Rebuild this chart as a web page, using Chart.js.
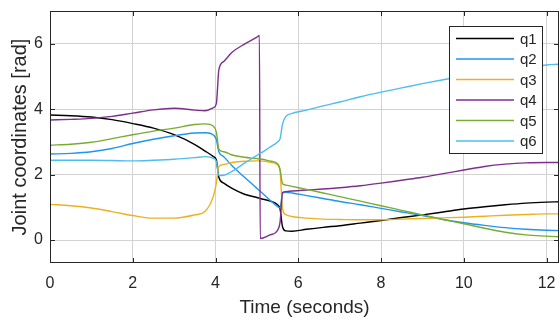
<!DOCTYPE html>
<html><head><meta charset="utf-8">
<script src="https://cdn.jsdelivr.net/npm/chart.js@4"></script>
<style>html,body{margin:0;background:#fff}</style>
</head><body>
<canvas id="c" width="560" height="320"></canvas>
<script>
// time axis (seconds) shared by all joints
const time = [0,0.5,1,1.5,2,2.5,3,3.5, 3.75,3.95,4.02,4.08, 4.2,4.4,4.7,5.0, 5.06,5.08,5.3,5.5, 5.56,5.62,5.7,5.85, 6.2,6.6,7,7.5, 8,8.5,9,9.5, 10,10.5,11,11.5, 12,12.3];
const q1 = [3.82,3.80,3.76,3.68,3.56,3.42,3.22,2.92, 2.72,2.55,2.45,1.92, 1.74,1.58,1.40,1.30, 1.28,1.27,1.20,1.08, 0.95,0.40,0.28,0.27, 0.33,0.39,0.44,0.52, 0.60,0.69,0.77,0.86, 0.95,1.02,1.08,1.13, 1.16,1.17];
const q2 = [2.63,2.65,2.70,2.80,2.95,3.08,3.19,3.27, 3.28,3.21,3.07,2.70, 2.55,2.27,1.92,1.58, 1.51,1.49,1.24,1.02, 0.98,1.44,1.46,1.44, 1.36,1.27,1.18,1.08, 0.97,0.86,0.75,0.63, 0.53,0.45,0.38,0.33, 0.30,0.29];
const q3 = [1.09,1.05,0.98,0.87,0.75,0.67,0.67,0.77, 0.88,1.35,1.75,2.25, 2.31,2.37,2.41,2.42, 2.42,2.42,2.38,2.30, 2.10,0.95,0.78,0.72, 0.67,0.64,0.63,0.62, 0.62,0.64,0.66,0.68, 0.70,0.73,0.76,0.78, 0.80,0.80];
const q4 = [3.67,3.69,3.72,3.78,3.88,3.98,4.03,3.97, 3.95,4.05,4.17,5.20, 5.46,5.74,5.99,6.20, 6.25,0.05,0.15,0.30, 0.55,1.45,1.48,1.50, 1.53,1.56,1.60,1.66, 1.74,1.83,1.92,2.03, 2.14,2.25,2.32,2.36, 2.37,2.37];
const q5 = [2.90,2.93,2.99,3.10,3.22,3.33,3.42,3.53, 3.55,3.48,3.30,2.78, 2.70,2.60,2.53,2.49, 2.48,2.48,2.42,2.33, 2.15,1.72,1.68,1.64, 1.55,1.44,1.33,1.19, 1.05,0.91,0.77,0.63, 0.50,0.36,0.24,0.16, 0.12,0.10];
const q6 = [2.44,2.44,2.44,2.43,2.42,2.44,2.47,2.52, 2.55,2.50,2.40,1.97, 1.98,2.10,2.35,2.59, 2.64,2.65,2.83,3.00, 3.10,3.55,3.78,3.87, 3.97,4.10,4.22,4.38, 4.52,4.65,4.78,4.90, 5.01,5.11,5.20,5.28, 5.35,5.38];
const names = ["q1","q2","q3","q4","q5","q6"];
const colors = ["#000000","#1E96F0","#EDB120","#7E2F8E","#77AC30","#4DBEEE"];
const xTicks = [0,2,4,6,8,10,12], yTicks = [0,2,4,6];

Chart.defaults.font.family = "'Liberation Sans', Arial, sans-serif";
Chart.defaults.color = "#262626";
const ink = "#262626";

// MATLAB-like box with inward ticks, plus legend inside the axes
const frame = {id:"frame", afterDatasetsDraw(ch){
  const {ctx, chartArea:a, scales:{x,y}} = ch;
  ctx.save(); ctx.strokeStyle = ink; ctx.lineWidth = 1;
  ctx.strokeRect(a.left+.5, a.top+.5, a.right-a.left-1, a.bottom-a.top-1);
  ctx.beginPath();
  xTicks.forEach(v=>{const p=Math.round(x.getPixelForValue(v))+.5;
    ctx.moveTo(p,a.bottom); ctx.lineTo(p,a.bottom-5); ctx.moveTo(p,a.top); ctx.lineTo(p,a.top+5);});
  yTicks.forEach(v=>{const p=Math.round(y.getPixelForValue(v))+.5;
    ctx.moveTo(a.left,p); ctx.lineTo(a.left+5,p); ctx.moveTo(a.right,p); ctx.lineTo(a.right-5,p);});
  ctx.stroke();
  // legend
  const L = a.right-110, T = a.top+15, W = 93, H = 127;
  ctx.fillStyle = "#fff"; ctx.fillRect(L,T,W,H);
  ctx.strokeRect(L+.5,T+.5,W,H);
  ctx.font = "15px 'Liberation Sans', Arial, sans-serif"; ctx.textBaseline = "middle";
  names.forEach((n,i)=>{const yy = T+12.5+i*20.5;
    ctx.strokeStyle = colors[i]; ctx.lineWidth = 1.5; ctx.beginPath();
    ctx.moveTo(L+7,yy); ctx.lineTo(L+65,yy); ctx.stroke();
    ctx.fillStyle = ink; ctx.fillText(n, L+71, yy+1);});
  ctx.restore();
}};

const axisFont = {size:16};
new Chart(document.getElementById("c"), {
  type:"line",
  data:{datasets: names.map((n,i)=>({label:n, data: time.map((t,k)=>({x:t, y:[q1,q2,q3,q4,q5,q6][i][k]})),
    borderColor:colors[i], borderWidth:1.4, pointRadius:0, cubicInterpolationMode:"monotone", order:6-i}))},
  options:{responsive:false, animation:false, events:[],
    layout:{padding:{top:11, right:1, left:0, bottom:0}},
    plugins:{legend:{display:false}, tooltip:{enabled:false}},
    scales:{
      x:{type:"linear", min:0, max:12.3, afterFit:s=>{s.height=57; s.paddingLeft=0; s.paddingRight=0;},
        ticks:{stepSize:2, includeBounds:false, font:axisFont, padding:11, maxRotation:0, color:ink},
        grid:{color:"#d2d2d2", drawTicks:false}, border:{display:false},
        title:{display:true, text:"Time (seconds)", font:{size:19}, color:ink, padding:{top:2, bottom:1}}},
      y:{min:-0.7, max:7, afterFit:s=>{s.width=50; s.paddingTop=0; s.paddingBottom=0;},
        ticks:{stepSize:2, includeBounds:false, font:axisFont, padding:7, color:ink},
        grid:{color:"#d2d2d2", drawTicks:false}, border:{display:false},
        title:{display:true, text:"Joint coordinates [rad]", font:{size:20}, color:ink, padding:{top:8, bottom:0}}}
    }},
  plugins:[frame]
});
</script>
</body></html>
